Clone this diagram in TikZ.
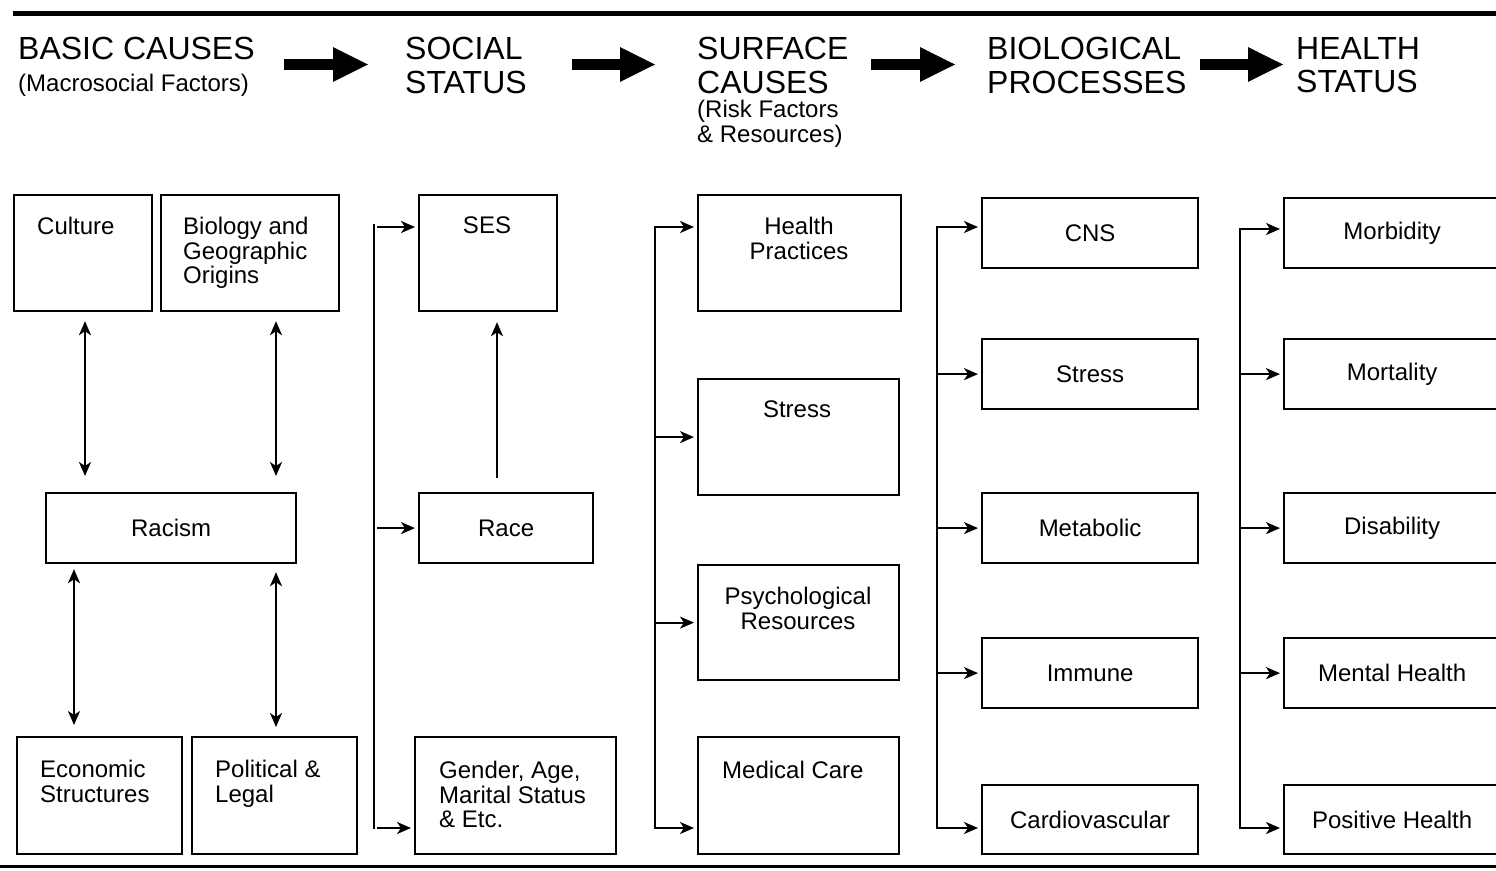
\documentclass[tikz,border=0pt]{standalone}
\usepackage{fontspec}
\setmainfont{Liberation Sans}
\usetikzlibrary{arrows.meta}
\newcommand\diaghead{\fontsize{32}{33.5}\selectfont}
\newcommand\diagbody{\fontsize{24}{24.5}\selectfont}
\begin{document}
\begin{tikzpicture}[x=1pt,y=-1pt,
  box/.style={draw, line width=2.2pt, inner sep=0pt, anchor=north west, font=\diagbody},
  txt/.style={inner sep=0pt, font=\diagbody, align=left},
  ctxt/.style={inner sep=0pt, font=\diagbody, align=center},
  head/.style={inner sep=0pt, font=\diaghead, align=left},
  arr/.style={line width=2.2pt, line cap=rect, -{Stealth[length=14pt,width=12pt,inset=4pt]}, shorten >=3pt},
  darr/.style={line width=2.2pt, {Stealth[length=14pt,width=12pt,inset=4pt]}-{Stealth[length=14pt,width=12pt,inset=4pt]}},
  bus/.style={line width=2.2pt, line cap=rect},
  hdrarr/.style={line width=11pt, -{Triangle[length=36pt 0 0,width=32pt 0 0]}}
]
\useasboundingbox (0,0) rectangle (1496,870);

% rules framing the figure
\draw[line width=5pt] (13,13.5) -- (1500,13.5);
\draw[line width=2.5pt] (0,866.5) -- (1500,866.5);

% ---- column headings
\node[head, anchor=north west] (hBasic) at (18,37) {BASIC CAUSES};
\node[txt, anchor=base west] (hBasicSub) at (18,91) {(Macrosocial Factors)};
\node[head, anchor=north west] (hSocial) at (405,37) {SOCIAL\\STATUS};
\node[head, anchor=north west] (hSurface) at (697,37) {SURFACE\\CAUSES};
\node[txt, anchor=north west] (hSurfaceSub) at (697,100) {(Risk Factors\\\& Resources)};
\node[head, anchor=north west] (hBio) at (987,37) {BIOLOGICAL\\PROCESSES};
\node[head, anchor=north west] (hHealth) at (1296,37) {HEALTH\\STATUS};

\coordinate (ha1s) at (284,64.5);  \coordinate (ha1e) at (369,64.5);
\coordinate (ha2s) at (572,64.5);  \coordinate (ha2e) at (656,64.5);
\coordinate (ha3s) at (871,64.5);  \coordinate (ha3e) at (956,64.5);
\coordinate (ha4s) at (1200,64.5); \coordinate (ha4e) at (1284,64.5);
\draw[hdrarr] (ha1s) -- (ha1e);
\draw[hdrarr] (ha2s) -- (ha2e);
\draw[hdrarr] (ha3s) -- (ha3e);
\draw[hdrarr] (ha4s) -- (ha4e);

% ---- basic causes
\node[box, minimum width=138, minimum height=116] (culture) at (13,194) {};
\node[txt, anchor=north west] (cultureT) at (37,217) {Culture};
\node[box, minimum width=178, minimum height=116] (bio) at (160,194) {};
\node[txt, anchor=north west] (bioT) at (183,217) {Biology and\\Geographic\\Origins};
\node[box, minimum width=250, minimum height=70] (racism) at (45,492) {Racism};
\node[box, minimum width=165, minimum height=117] (econ) at (16,736) {};
\node[txt, anchor=north west] (econT) at (40,760) {Economic\\Structures};
\node[box, minimum width=165, minimum height=117] (polit) at (191,736) {};
\node[txt, anchor=north west] (politT) at (215,760) {Political \&\\Legal};

\draw[darr, shorten <=9pt, shorten >=16pt] (85,0 |- culture.south) -- (85,0 |- racism.north);
\draw[darr, shorten <=9pt, shorten >=16pt] (276,0 |- bio.south) -- (276,0 |- racism.north);
\draw[darr, shorten <=5pt, shorten >=11pt] (74,0 |- racism.south) -- (74,0 |- econ.north);
\draw[darr, shorten <=8pt, shorten >=9pt] (276,0 |- racism.south) -- (276,0 |- polit.north);

% ---- social status
\node[box, minimum width=138, minimum height=116] (ses) at (418,194) {};
\node[ctxt, anchor=north] (sesT) at (487,217) {SES};
\node[box, minimum width=174, minimum height=70] (race) at (418,492) {Race};
\node[box, minimum width=201, minimum height=117] (gender) at (414,736) {};
\node[txt, anchor=north west] (genderT) at (439,761) {Gender, Age,\\Marital Status\\\& Etc.};

\draw[line width=2.2pt, -{Stealth[length=14pt,width=12pt,inset=4pt]}, shorten <=14pt, shorten >=10pt]
  (497,0 |- race.north) -- (497,0 |- ses.south);

\coordinate (b2t) at (374,225);
\coordinate (b2b) at (374,828);
\draw[bus] (b2t) -- (b2b);
\draw[arr] (378,227) -- (378,227 -| ses.west);
\draw[arr] (378,0 |- race.west) -- (race.west);
\draw[arr] (378,828) -- (378,828 -| gender.west);

% ---- surface causes
\node[box, minimum width=203, minimum height=116] (hp) at (697,194) {};
\node[ctxt, anchor=north] (hpT) at (799,217) {Health\\Practices};
\node[box, minimum width=201, minimum height=116] (stressA) at (697,378) {};
\node[ctxt, anchor=north] (stressAT) at (797,401) {Stress};
\node[box, minimum width=201, minimum height=115] (psych) at (697,564) {};
\node[ctxt, anchor=north] (psychT) at (798,587) {Psychological\\Resources};
\node[box, minimum width=201, minimum height=117] (medcare) at (697,736) {};
\node[txt, anchor=north west] (medcareT) at (722,761) {Medical Care};

\coordinate (b3t) at (655,227);
\coordinate (b3b) at (655,828);
\draw[arr] (b3b) -- (b3t) -- (b3t -| hp.west);
\draw[arr] (b3t |- stressA.west) -- (stressA.west);
\draw[arr] (b3t |- psych.west) -- (psych.west);
\draw[arr] (b3b) -- (b3b -| medcare.west);

% ---- biological processes
\node[box, minimum width=216, minimum height=70] (cns) at (981,197) {CNS};
\node[box, minimum width=216, minimum height=70] (stressB) at (981,338) {Stress};
\node[box, minimum width=216, minimum height=70] (metab) at (981,492) {Metabolic};
\node[box, minimum width=216, minimum height=70] (immune) at (981,637) {Immune};
\node[box, minimum width=216, minimum height=69] (cardio) at (981,784) {Cardiovascular};

\coordinate (b4t) at (937,227);
\coordinate (b4b) at (937,828);
\draw[arr] (b4b) -- (b4t) -- (b4t -| cns.west);
\draw[arr] (b4t |- stressB.west) -- (stressB.west);
\draw[arr] (b4t |- metab.west) -- (metab.west);
\draw[arr] (b4t |- immune.west) -- (immune.west);
\draw[arr] (b4b) -- (b4b -| cardio.west);

% ---- health status (boxes run off the right edge)
\node[box, minimum width=216, minimum height=70] (morb) at (1283,197) {Morbidity};
\node[box, minimum width=216, minimum height=70] (mort) at (1283,338) {Mortality};
\node[box, minimum width=216, minimum height=70] (disab) at (1283,492) {Disability};
\node[box, minimum width=216, minimum height=70] (mental) at (1283,637) {Mental Health};
\node[box, minimum width=216, minimum height=69] (positive) at (1283,784) {Positive Health};

\coordinate (b5t) at (1240,229);
\coordinate (b5b) at (1240,828);
\draw[arr] (b5b) -- (b5t) -- (b5t -| morb.west);
\draw[arr] (b5t |- mort.west) -- (mort.west);
\draw[arr] (b5t |- disab.west) -- (disab.west);
\draw[arr] (b5t |- mental.west) -- (mental.west);
\draw[arr] (b5b) -- (b5b -| positive.west);
\end{tikzpicture}
\end{document}
